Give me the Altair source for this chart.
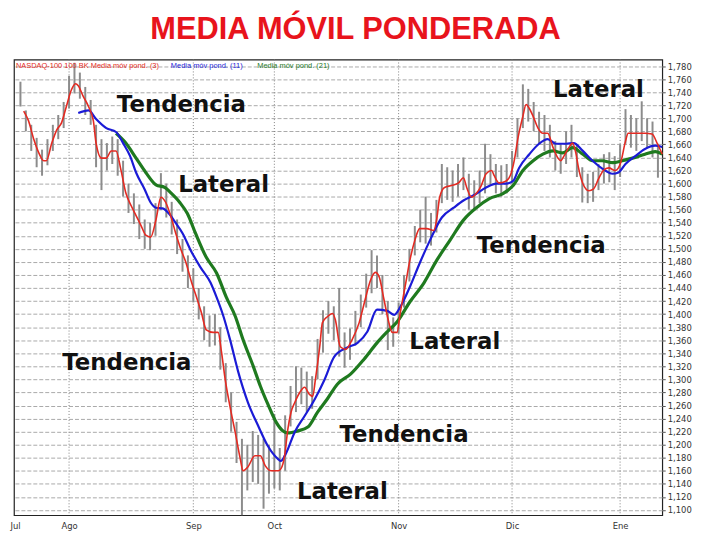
import altair as alt
import pandas as pd

# ---------------- data ----------------
month_labels = ["Jul", "Ago", "Sep", "Oct", "Nov", "Dic", "Ene"]
month_pos = [0, 10, 33, 48, 71, 92, 112]          # trading-day index of month start
grid_months = [10, 33, 48, 71, 92, 112]

y_ticks = list(range(1100, 1781, 20))

bar_t = list(range(1, 120))
bar_high = [1756, 1712, 1690, 1670, 1652, 1668, 1690, 1705, 1725, 1765,
            1785, 1770, 1748, 1728, 1690, 1668, 1662, 1672, 1668, 1635,
            1600, 1585, 1568, 1545, 1540, 1570, 1616, 1600, 1572, 1545,
            1515, 1490, 1470, 1440, 1412, 1398, 1400, 1380, 1325, 1280,
            1235, 1209, 1200, 1221, 1215, 1209, 1200, 1247, 1195, 1245,
            1290, 1320, 1318, 1312, 1305, 1362, 1406, 1420, 1412, 1440,
            1372, 1378, 1405, 1430, 1462, 1498, 1490, 1460, 1420, 1395,
            1418, 1460, 1500, 1535, 1560, 1580, 1555, 1575, 1630, 1625,
            1620, 1630, 1640, 1615, 1605, 1620, 1661, 1645, 1630, 1628,
            1630, 1650, 1700, 1752, 1745, 1725, 1710, 1705, 1690, 1665,
            1660, 1680, 1690, 1660, 1625, 1615, 1618, 1630, 1645, 1648,
            1642, 1660, 1714, 1705, 1700, 1726, 1700, 1695, 1661]
bar_low = [1718, 1680, 1650, 1625, 1612, 1628, 1650, 1668, 1685, 1715,
           1738, 1730, 1705, 1690, 1625, 1590, 1620, 1630, 1612, 1580,
           1555, 1538, 1515, 1500, 1498, 1520, 1560, 1548, 1522, 1492,
           1465, 1440, 1418, 1392, 1360, 1350, 1352, 1315, 1265, 1220,
           1172, 1092, 1130, 1143, 1140, 1102, 1125, 1133, 1130, 1160,
           1228, 1250, 1262, 1250, 1255, 1300, 1341, 1370, 1360, 1335,
           1318, 1330, 1352, 1380, 1410, 1432, 1440, 1400, 1345, 1350,
           1370, 1410, 1450, 1490, 1510, 1508, 1505, 1525, 1570, 1575,
           1572, 1580, 1590, 1560, 1560, 1570, 1585, 1598, 1585, 1580,
           1585, 1600, 1640, 1685, 1695, 1680, 1660, 1650, 1640, 1620,
           1615, 1630, 1640, 1610, 1571, 1570, 1572, 1590, 1600, 1602,
           1590, 1610, 1661, 1655, 1650, 1665, 1655, 1640, 1609]

wma3_t = [1.6, 2.5, 3.5, 4.4, 5.3, 5.8, 6.8, 7.7, 8.6, 9.5,
          10.4, 11.2, 11.7, 12.6, 13.6, 14.5, 15.0, 16.0, 16.9, 17.8,
          18.7, 19.6, 20.5, 21.5, 22.4, 23.3, 24.2, 25.1, 26.1, 27.0,
          27.9, 28.8, 29.7, 30.7, 31.6, 32.7, 33.6, 34.5, 35.4, 36.7,
          37.6, 38.2, 38.9, 39.8, 40.8, 41.7, 42.2, 43.1, 44.4, 45.4,
          46.3, 47.4, 48.7, 49.2, 49.9, 50.5, 51.1, 51.8, 52.7, 53.6,
          54.5, 55.1, 55.6, 56.4, 56.9, 57.8, 58.8, 59.3, 60.2, 61.2,
          62.4, 63.7, 64.8, 65.8, 66.7, 67.4, 68.3, 69.2, 69.8, 70.7,
          71.3, 72.2, 73.1, 74.0, 74.9, 76.2, 77.5, 78.1, 78.6, 79.5,
          80.8, 82.1, 83.0, 83.6, 84.5, 85.4, 86.3, 87.2, 88.2, 88.7,
          89.6, 90.9, 91.8, 92.4, 93.1, 94.0, 94.6, 95.2, 95.9, 96.8,
          97.7, 98.6, 99.6, 100.5, 101.0, 101.6, 102.5, 103.2, 103.8, 104.3,
          105.1, 106.2, 107.1, 108.0, 108.9, 109.9, 111.1, 112.1, 113.0, 113.5,
          114.8, 116.6, 117.9, 118.9, 119.8]
wma3_v = [1711, 1696, 1667, 1647, 1635, 1635, 1662, 1682, 1693, 1718,
          1743, 1753, 1750, 1734, 1718, 1696, 1662, 1639, 1639, 1650,
          1650, 1621, 1586, 1566, 1551, 1536, 1521, 1518, 1545, 1579,
          1571, 1551, 1525, 1499, 1480, 1448, 1426, 1402, 1376, 1372,
          1372, 1343, 1300, 1258, 1217, 1178, 1160, 1166, 1183, 1183,
          1168, 1160, 1160, 1163, 1183, 1224, 1250, 1265, 1280, 1288,
          1277, 1274, 1300, 1350, 1387, 1396, 1401, 1391, 1350, 1346,
          1361, 1387, 1422, 1452, 1464, 1457, 1422, 1387, 1372, 1372,
          1402, 1442, 1483, 1513, 1531, 1531, 1528, 1548, 1579, 1594,
          1597, 1601, 1609, 1594, 1579, 1585, 1597, 1615, 1620, 1612,
          1601, 1604, 1615, 1635, 1670, 1703, 1721, 1715, 1703, 1685,
          1677, 1677, 1655, 1639, 1635, 1642, 1655, 1662, 1647, 1624,
          1600, 1589, 1592, 1607, 1620, 1624, 1620, 1632, 1665, 1677,
          1677, 1677, 1676, 1661, 1645]

wma11_t = [11.7, 13.6, 15.0, 16.9, 18.7, 20.0, 21.3, 22.4, 24.0, 25.1,
           26.1, 27.3, 28.6, 29.7, 31.0, 32.5, 34.3, 36.2, 37.3, 38.6,
           39.8, 41.3, 43.1, 45.0, 46.8, 48.7, 49.2, 50.1, 51.8, 53.6,
           55.5, 57.3, 59.1, 61.5, 63.4, 65.2, 67.0, 68.9, 70.2, 71.3,
           73.1, 74.9, 76.8, 79.0, 81.2, 83.0, 84.9, 87.2, 89.1, 90.9,
           92.2, 93.3, 95.2, 97.0, 98.6, 100.1, 102.0, 103.4, 105.1, 106.9,
           108.7, 110.6, 111.7, 113.0, 114.8, 116.6, 118.5, 119.8]
wma11_v = [1708, 1712, 1699, 1685, 1679, 1662, 1642, 1617, 1591, 1571,
           1563, 1562, 1553, 1540, 1524, 1498, 1472, 1448, 1426, 1396,
           1361, 1312, 1265, 1229, 1198, 1178, 1175, 1186, 1220, 1244,
           1270, 1300, 1335, 1349, 1356, 1373, 1407, 1405, 1399, 1411,
           1442, 1478, 1513, 1548, 1563, 1574, 1582, 1594, 1600, 1600,
           1604, 1624, 1645, 1661, 1668, 1661, 1661, 1662, 1650, 1635,
           1623, 1615, 1617, 1630, 1642, 1653, 1658, 1656]

wma21_t = [18.7, 20.5, 22.4, 24.2, 26.1, 27.7, 28.8, 30.5, 31.9, 33.4,
           35.4, 37.3, 39.1, 40.8, 42.2, 44.1, 45.4, 46.8, 48.3, 49.6,
           50.5, 52.3, 54.2, 56.0, 57.8, 59.7, 62.1, 64.6, 67.0, 68.9,
           70.7, 73.1, 75.7, 78.1, 80.5, 83.0, 85.4, 87.8, 90.4, 92.2,
           94.0, 95.9, 97.7, 99.6, 101.4, 103.2, 105.1, 106.9, 108.7, 110.6,
           112.4, 114.3, 116.6, 118.5, 119.8]
wma21_v = [1677, 1662, 1639, 1617, 1598, 1594, 1586, 1571, 1554, 1524,
           1487, 1463, 1426, 1396, 1361, 1320, 1290, 1262, 1235, 1221,
           1218, 1221, 1227, 1250, 1270, 1293, 1308, 1331, 1356, 1373,
           1388, 1419, 1448, 1483, 1513, 1544, 1563, 1577, 1585, 1597,
           1620, 1635, 1645, 1650, 1647, 1655, 1645, 1635, 1635, 1632,
           1635, 1639, 1645, 1649, 1645]

notes = ["Tendencia", "Lateral", "Tendencia", "Lateral",
         "Tendencia", "Lateral", "Tendencia", "Lateral"]
note_t = [30.8, 38.6, 20.7, 81.4, 72.0, 60.6, 97.4, 108.0]
note_v = [1721, 1597, 1325, 1358, 1215, 1128, 1504, 1743]

title_text = "MEDIA MÓVIL PONDERADA"
legend_texts = ["NASDAQ-100 100 BK Media móv pond. (3)",
                "Media móv pond. (11)", "Media móv pond. (21)"]

# ---------------- chart ----------------
RED, BLUE, GREEN = "#e42a22", "#1b1bd6", "#1f7a1f"

xs = alt.Scale(domain=[-0.2, 119.8], nice=False, zero=False)
ys = alt.Scale(domain=[1092, 1790], nice=False, zero=False)

label_expr = "".join(
    f"datum.value == {p} ? '{m}' : " for p, m in zip(month_pos, month_labels)) + "''"

x_axis = alt.Axis(values=month_pos, labelExpr=label_expr, grid=False, domain=False,
                  ticks=False, labelPadding=6, labelFontSize=8.5,
                  labelFont="DejaVu Sans", labelColor="#333", title=None)
y_axis = alt.Axis(orient="right", values=y_ticks, format=",d", grid=True,
                  gridColor="#a9a9a9", gridDash=[4, 2], gridWidth=1,
                  domain=False, tickSize=3, tickColor="#555", labelPadding=2,
                  labelFontSize=8.5, labelFont="DejaVu Sans", labelColor="#333",
                  title=None)

X = alt.X("t:Q", scale=xs, axis=x_axis)

bars_df = pd.DataFrame({"t": bar_t, "high": bar_high, "low": bar_low})
w3 = pd.DataFrame({"t": wma3_t, "v": wma3_v})
w11 = pd.DataFrame({"t": wma11_t, "v": wma11_v})
w21 = pd.DataFrame({"t": wma21_t, "v": wma21_v})
notes_df = pd.DataFrame({"t": note_t, "v": note_v, "txt": notes})
grid_df = pd.DataFrame({"t": grid_months})

base_bars = alt.Chart(bars_df).mark_rule(color="#8c8c8c", strokeWidth=2).encode(
    x=X,
    y=alt.Y("high:Q", scale=ys, axis=y_axis),
    y2="low:Q",
)

vgrid = alt.Chart(grid_df).mark_rule(color="#808080", strokeDash=[1, 2], strokeWidth=1).encode(
    x=X,
)

def line(df, color, width):
    return alt.Chart(df).mark_line(color=color, strokeWidth=width, interpolate="monotone").encode(
        x=X,
        y=alt.Y("v:Q", scale=ys, axis=y_axis),
    )

red_line = line(w3, RED, 1.6)
blue_line = line(w11, BLUE, 2.2)
green_line = line(w21, GREEN, 3.2)

note_layer = alt.Chart(notes_df).mark_text(
    font="DejaVu Sans", fontWeight="bold", fontSize=23, color="#111",
    align="center", baseline="middle").encode(
    x=X,
    y=alt.Y("v:Q", scale=ys, axis=y_axis),
    text="txt:N",
)

title_layer = alt.Chart(pd.DataFrame({"txt": [title_text]})).mark_text(
    font="Liberation Sans", fontWeight="bold", fontSize=31, color="#e8141c",
    align="center", baseline="middle").encode(
    x=alt.value(344), y=alt.value(-30), text="txt:N")

leg_df = pd.DataFrame({"txt": legend_texts})
leg_colors = [RED, BLUE, GREEN]
leg_x = [2, 158, 245]
leg_layers = []
for i in range(3):
    leg_layers.append(
        alt.Chart(leg_df.iloc[[i]]).mark_text(
            font="Liberation Sans", fontSize=7.5, color=leg_colors[i],
            align="left", baseline="middle").encode(
            x=alt.value(leg_x[i]), y=alt.value(7), text="txt:N"))

chart = alt.layer(
    vgrid, base_bars, green_line, blue_line, red_line, note_layer, title_layer, *leg_layers
).properties(
    width=653, height=459,
    padding={"left": 6, "top": 50, "right": 34, "bottom": 14},
    autosize=alt.AutoSizeParams(type="none"),
).configure(background="white").configure_view(stroke="#222", strokeWidth=1.2)

chart.save("out.html", embed_options={"renderer": "svg", "actions": False})
